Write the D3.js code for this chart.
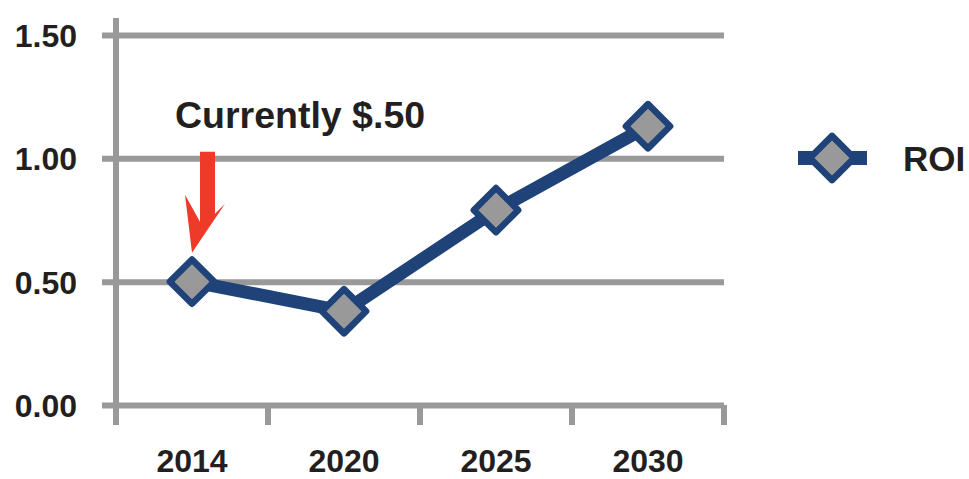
<!DOCTYPE html>
<html>
<head>
<meta charset="utf-8">
<script src="https://cdn.jsdelivr.net/npm/d3@7"></script>
<style>
  body { margin: 0; background: #fff; }
  svg text { font-family: "Liberation Sans", Arial, sans-serif; font-weight: bold; fill: #231f20; }
</style>
</head>
<body>
<svg id="chart" width="969" height="479"></svg>
<script>
// data
var years = ['2014', '2020', '2025', '2030'];
var roi = [0.50, 0.38, 0.79, 1.13];
var yTicks = [0, 0.5, 1.0, 1.5];
var seriesName = 'ROI';
var note = 'Currently $.50';

var grey = '#999999';
var blue = '#1f4279';
var red = '#ee3a29';

var svg = d3.select('#chart');

var x = d3.scaleBand().domain(years).range([116, 724]);
var y = d3.scaleLinear().domain([0, 1.5]).range([405, 35]);

// gridlines + y labels
var yAxis = d3.axisLeft(y)
    .tickValues(yTicks)
    .tickSize(-(724 - 102))
    .tickPadding(25)
    .tickFormat(d3.format('.2f'));

var gy = svg.append('g')
    .attr('transform', 'translate(102,0)')
    .call(yAxis);
gy.select('.domain').remove();
gy.selectAll('.tick line')
    .attr('stroke', grey)
    .attr('stroke-width', 6);
gy.selectAll('.tick text')
    .attr('font-size', 32)
    .attr('fill', '#231f20')
    .attr('dy', '0.36em');

// x tick marks sit on the band edges
var edges = years.map(function (d) { return x(d); }).concat([x.range()[1]]);
svg.append('g').selectAll('line')
    .data(edges)
    .enter()
    .append('line')
    .attr('x1', function (d) { return d; })
    .attr('x2', function (d) { return d; })
    .attr('y1', y(0))
    .attr('y2', y(0) + 20)
    .attr('stroke', grey)
    .attr('stroke-width', 6);

// vertical axis
svg.append('line')
    .attr('x1', x.range()[0]).attr('x2', x.range()[0])
    .attr('y1', 18).attr('y2', y(0) + 20)
    .attr('stroke', grey)
    .attr('stroke-width', 6);

// year labels
var xAxis = d3.axisBottom(x).tickSize(0).tickPadding(48);
var gx = svg.append('g')
    .attr('transform', 'translate(0,' + y(0) + ')')
    .call(xAxis);
gx.select('.domain').remove();
gx.selectAll('.tick text')
    .attr('font-size', 32)
    .attr('fill', '#231f20')
    .attr('dy', '0.58em');

var cx = function (d, i) { return x(years[i]) + x.bandwidth() / 2; };
var cy = function (d) { return y(d); };

// red arrow pointing at the 2014 point
var px = cx(roi[0], 0), py = cy(roi[0]);
var arrow = [[8, -130], [23, -130], [23, -68], [33, -78], [0, -29], [-7, -87], [8, -60]];
svg.append('path')
    .attr('d', d3.line()(arrow.map(function (p) { return [px + p[0], py + p[1]]; })) + 'Z')
    .attr('fill', red);

svg.append('text')
    .attr('x', px - 17)
    .attr('y', py - 154)
    .attr('font-size', 37.5)
    .text(note);

// series line
svg.append('path')
    .datum(roi)
    .attr('d', d3.line().x(cx).y(cy))
    .attr('fill', 'none')
    .attr('stroke', blue)
    .attr('stroke-width', 13)
    .attr('stroke-linejoin', 'round');

var diamond = d3.symbol().type(d3.symbolSquare).size(980);

svg.append('g').selectAll('path')
    .data(roi)
    .enter()
    .append('path')
    .attr('d', diamond)
    .attr('transform', function (d, i) {
        return 'translate(' + cx(d, i) + ',' + cy(d) + ') rotate(45)';
    })
    .attr('fill', grey)
    .attr('stroke', blue)
    .attr('stroke-width', 6.5)
    .attr('stroke-linejoin', 'round');

// legend
var lg = svg.append('g').attr('transform', 'translate(832,158)');
lg.append('line')
    .attr('x1', -34).attr('x2', 35)
    .attr('stroke', blue)
    .attr('stroke-width', 14);
lg.append('path')
    .attr('d', diamond)
    .attr('transform', 'rotate(45)')
    .attr('fill', grey)
    .attr('stroke', blue)
    .attr('stroke-width', 6.5)
    .attr('stroke-linejoin', 'round');
lg.append('text')
    .attr('x', 71)
    .attr('y', 13)
    .attr('font-size', 35)
    .text(seriesName);
</script>
</body>
</html>
